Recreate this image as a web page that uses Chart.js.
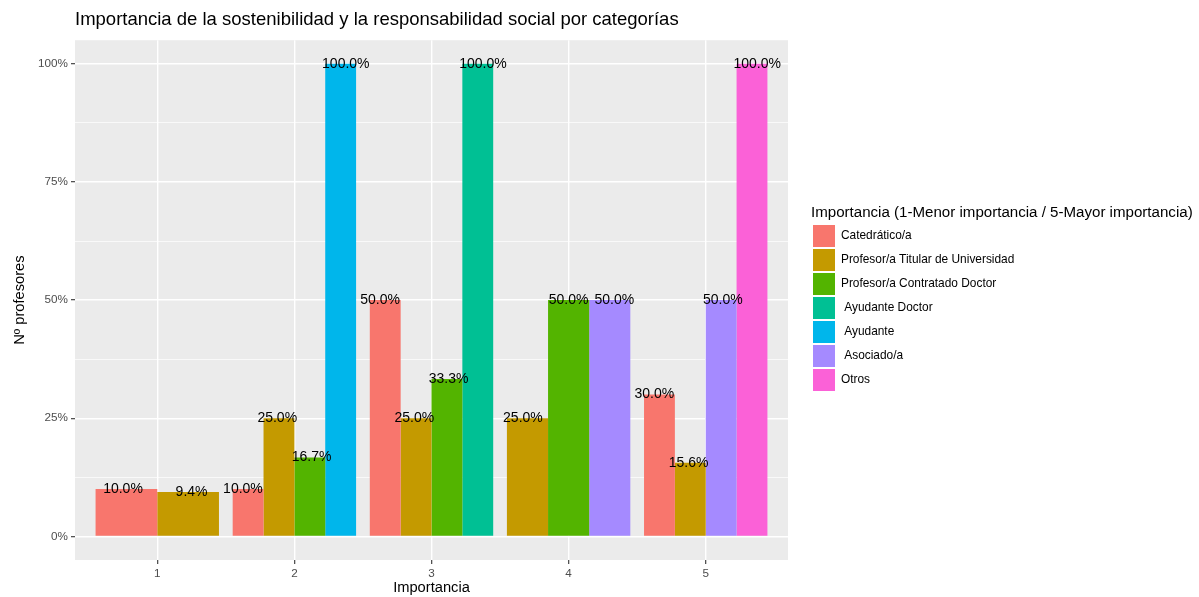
<!DOCTYPE html>
<html>
<head>
<meta charset="utf-8">
<script src="https://cdn.jsdelivr.net/npm/chart.js@4.4.1/dist/chart.umd.min.js"></script>
<style>
  html, body { margin: 0; padding: 0; background: #fff; }
  #wrap { width: 1199px; height: 597px; }
</style>
</head>
<body>
<div id="wrap"><canvas id="chart" width="1199" height="597"></canvas></div>
<script>
// categories on the x axis (importance 1-5)
const categories = ['1', '2', '3', '4', '5'];

// percentage of each professor category per importance level
const catedratico = [10.0, 10.0, 50.0, null, 30.0];
const titular = [9.4, 25.0, 25.0, 25.0, 15.6];
const contratado = [null, 16.7, 33.3, 50.0, null];
const ayudanteDoctor = [null, null, 100.0, null, null];
const ayudante = [null, 100.0, null, null, null];
const asociado = [null, null, null, 50.0, 50.0];
const otros = [null, null, null, null, 100.0];

const seriesNames = ['Catedrático/a', 'Profesor/a Titular de Universidad', 'Profesor/a Contratado Doctor', ' Ayudante Doctor', ' Ayudante', ' Asociado/a', 'Otros'];
const seriesValues = [catedratico, titular, contratado, ayudanteDoctor, ayudante, asociado, otros];
const seriesColors = ['#F8766D', '#C49A00', '#53B400', '#00C094', '#00B6EB', '#A58AFF', '#FB61D7'];

// y ticks: labelled majors and unlabelled minors
const yMajorTicks = [0, 25, 50, 75, 100];
const yMinorTicks = [12.5, 37.5, 62.5, 87.5];

Chart.defaults.font.family = "'Liberation Sans', Arial, sans-serif";

// grey panel behind the plot
const panelBg = {
  id: 'panelBg',
  beforeDraw(chart) {
    const { ctx, chartArea: a } = chart;
    ctx.save();
    ctx.fillStyle = '#EBEBEB';
    ctx.fillRect(a.left, a.top, a.right - a.left, a.bottom - a.top);
    ctx.restore();
  }
};

// the legend title is wider than the items, so give the legend box room for it
const legendWidth = {
  id: 'legendWidth',
  beforeUpdate(chart) {
    const lg = chart.legend;
    if (!lg || lg._wideFit) return;
    const fit = lg.fit.bind(lg);
    lg.fit = function () {
      fit();
      this.width = 388;
    };
    lg._wideFit = true;
  }
};

// percentage labels: the text is dodged over a full unit, not the 0.9 of the bars
const barLabels = {
  id: 'barLabels',
  afterDatasetsDraw(chart) {
    const ctx = chart.ctx;
    const xs = chart.scales.x;
    const ys = chart.scales.y;
    ctx.save();
    ctx.font = "14px 'Liberation Sans', Arial, sans-serif";
    ctx.fillStyle = '#000';
    ctx.textAlign = 'center';
    ctx.textBaseline = 'middle';
    categories.forEach((cat, j) => {
      const present = seriesValues.map(s => s[j]).filter(v => v !== null);
      const n = present.length;
      present.forEach((v, rank) => {
        const x = xs.getPixelForValue(+cat + (rank - (n - 1) / 2) / n);
        ctx.fillText(v.toFixed(1) + '%', x, ys.getPixelForValue(v));
      });
    });
    ctx.restore();
  }
};

const isMajor = v => yMajorTicks.includes(v);

new Chart(document.getElementById('chart'), {
  type: 'bar',
  data: {
    labels: categories,
    datasets: seriesNames.map((name, i) => ({
      label: name,
      data: seriesValues[i],
      backgroundColor: seriesColors[i],
      borderWidth: 0,
      skipNull: true,
      categoryPercentage: 0.9,
      barPercentage: 1.0
    }))
  },
  options: {
    responsive: false,
    animation: false,
    devicePixelRatio: 1,
    layout: { padding: 0 },
    plugins: {
      title: {
        display: true,
        text: 'Importancia de la sostenibilidad y la responsabilidad social por categorías',
        align: 'start',
        fullSize: false,
        color: '#000',
        font: { size: 18.5, weight: 'normal' },
        padding: { top: 9, bottom: 9 }
      },
      legend: {
        position: 'right',
        align: 'center',
        title: {
          display: true,
          text: 'Importancia (1-Menor importancia / 5-Mayor importancia)',
          position: 'start',
          color: '#000',
          font: { size: 15.1, lineHeight: 1.1 },
          padding: { top: 1.5, bottom: 0.9 }
        },
        labels: {
          boxWidth: 22,
          boxHeight: 22,
          padding: 2,
          color: '#000',
          font: { size: 11.9 }
        }
      },
      tooltip: { enabled: false }
    },
    scales: {
      x: {
        type: 'linear',
        offset: false,
        min: 0.4,
        max: 5.6,
        afterBuildTicks: s => { s.ticks = categories.map(c => ({ value: +c })); },
        afterFit: s => { s.height = 37; },
        border: { display: false },
        grid: { offset: false, color: '#FFFFFF', lineWidth: 1.4, tickColor: '#333333', tickWidth: 1.1, tickLength: 4 },
        ticks: { color: '#4D4D4D', font: { size: 11.7 }, padding: 3, autoSkip: false, maxRotation: 0, callback: v => String(v) },
        title: { display: true, text: 'Importancia', color: '#000', font: { size: 14.7 }, padding: { top: 0, bottom: 0 } }
      },
      y: {
        min: -5,
        max: 105,
        afterBuildTicks: s => { s.ticks = yMajorTicks.concat(yMinorTicks).sort((a, b) => a - b).map(v => ({ value: v })); },
        afterFit: s => { s.width = 75; },
        border: { display: false },
        grid: {
          color: '#FFFFFF',
          lineWidth: c => (c.tick && isMajor(c.tick.value) ? 1.4 : 0.7),
          tickColor: c => (c.tick && isMajor(c.tick.value) ? '#333333' : 'rgba(0,0,0,0)'),
          tickWidth: 1.1,
          tickLength: 4
        },
        ticks: { color: '#4D4D4D', font: { size: 11.7 }, padding: 3, autoSkip: false, callback: v => (isMajor(v) ? v + '%' : '') },
        title: { display: true, text: 'Nº profesores', color: '#000', font: { size: 14.7 }, padding: { top: 11, bottom: 0 } }
      },
      pad: {
        type: 'linear',
        position: 'right',
        display: true,
        afterFit: s => { s.width = 23; },
        border: { display: false },
        grid: { display: false, drawTicks: false },
        ticks: { display: false }
      }
    }
  },
  plugins: [panelBg, legendWidth, barLabels]
});
</script>
</body>
</html>
